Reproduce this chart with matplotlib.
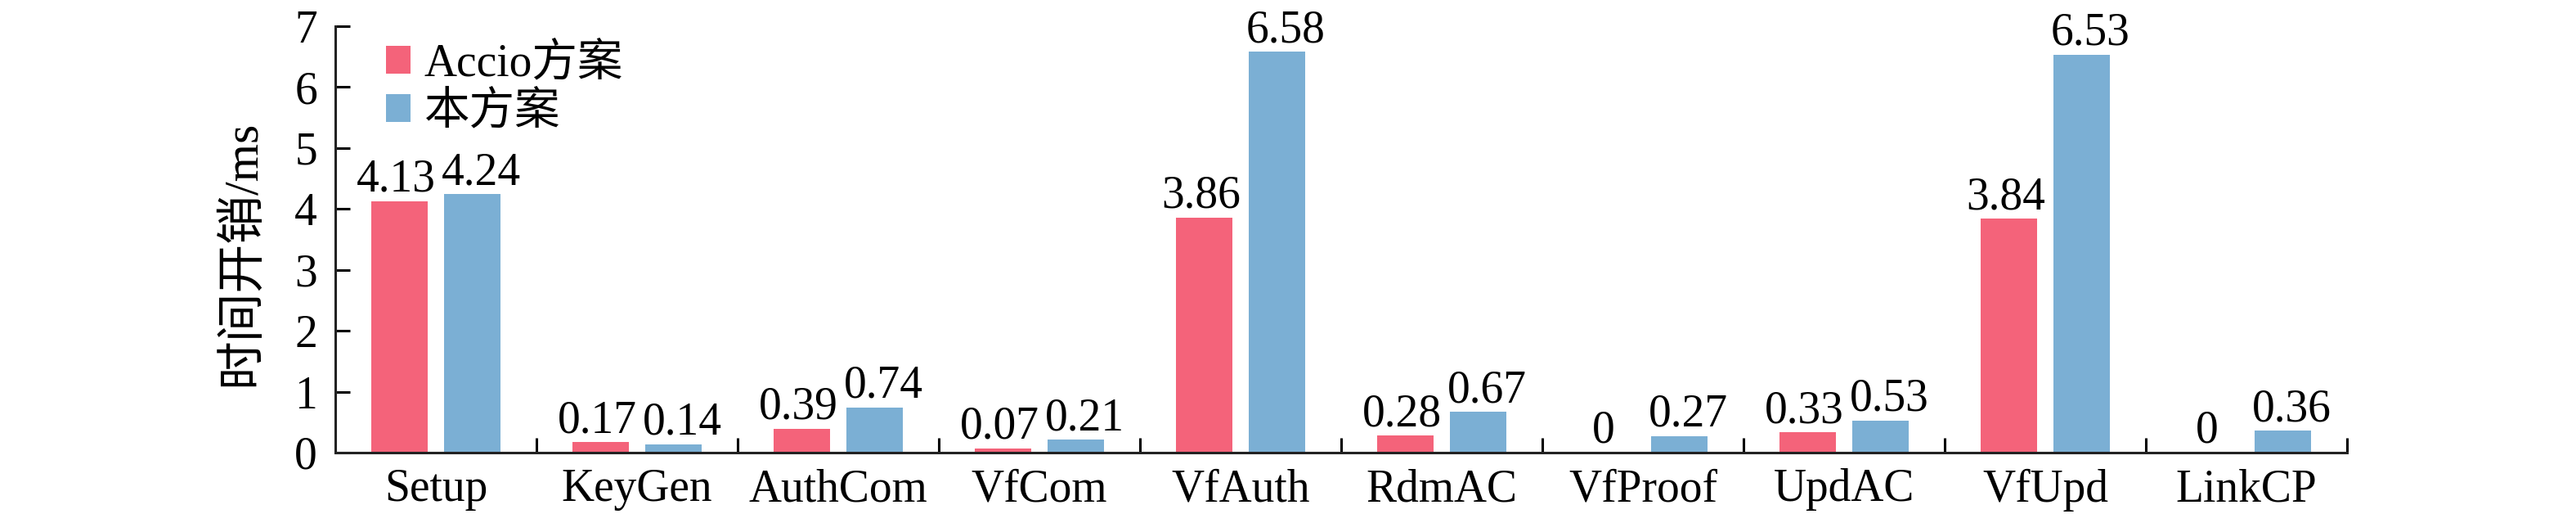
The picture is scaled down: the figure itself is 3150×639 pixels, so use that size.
import numpy as np
import matplotlib
matplotlib.use("Agg")
import matplotlib.pyplot as plt

# 数据
categories = ["Setup", "KeyGen", "AuthCom", "VfCom", "VfAuth",
              "RdmAC", "VfProof", "UpdAC", "VfUpd", "LinkCP"]
accio = [4.13, 0.17, 0.39, 0.07, 3.86, 0.28, 0, 0.33, 3.84, 0]
ours = [4.24, 0.14, 0.74, 0.21, 6.58, 0.67, 0.27, 0.53, 6.53, 0.36]
series_names = ["Accio方案", "本方案"]
colors = ["#F4637A", "#7BAFD4"]

plt.rcParams['font.family'] = ['Liberation Serif', 'Noto Sans CJK SC']
plt.rcParams['font.size'] = 40

fig = plt.figure(figsize=(31.5, 6.39), dpi=100)
ax = fig.add_axes([0.1302, 0.1346, 0.9111 - 0.1302, 0.9499 - 0.1346])

x = np.arange(len(categories))
w = 0.28
off = 0.18
b1 = ax.bar(x - off, accio, w, color=colors[0], label=series_names[0])
b2 = ax.bar(x + off, ours, w, color=colors[1], label=series_names[1])

def fmt(v):
    return "0" if v == 0 else f"{v:.2f}"

# 数值标注（稍微错开，避免相互重叠）
for xi, v in zip(x - off, accio):
    ax.annotate(fmt(v), (xi, v), xytext=(-3, 0), textcoords='offset points',
                ha='center', va='bottom', fontsize=40)
for xi, v in zip(x + off, ours):
    ax.annotate(fmt(v), (xi, v), xytext=(8, 0), textcoords='offset points',
                ha='center', va='bottom', fontsize=40)

ax.set_xlim(-0.5, len(categories) - 0.5)
ax.set_ylim(0, 7)
ax.set_yticks(range(0, 8))

# 组间刻度
ax.set_xticks(np.arange(0.5, len(categories), 1.0))
ax.set_xticklabels([])
ax.set_xticks(x, minor=True)
ax.set_xticklabels(categories, minor=True)
ax.tick_params(axis='x', which='major', direction='in', length=13, width=2.2)
ax.tick_params(axis='x', which='minor', length=0, pad=14, labelsize=40)
ax.tick_params(axis='y', direction='in', length=13, width=2.2, pad=16, labelsize=40)

for s in ['top', 'right']:
    ax.spines[s].set_visible(False)
for s in ['left', 'bottom']:
    ax.spines[s].set_linewidth(2.2)
    ax.spines[s].set_color('#222222')

ax.set_ylabel("时间开销/ms", fontsize=43)
ax.yaxis.set_label_coords(-0.035, 0.468)

ax.legend(loc='upper left', bbox_to_anchor=(0.025, 0.96), frameon=False,
          handlelength=0.55, handleheight=0.55, handletextpad=0.3,
          labelspacing=0.12, borderpad=0, borderaxespad=0, fontsize=40)

fig.savefig("out.png", dpi=100)
